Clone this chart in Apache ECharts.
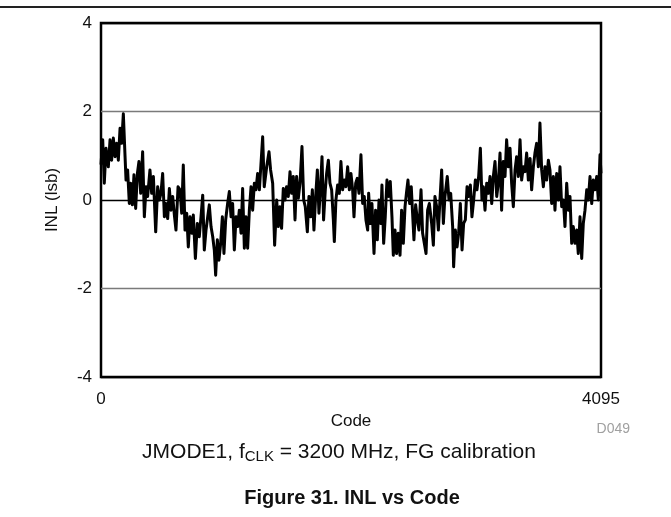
<!DOCTYPE html>
<html lang="en">

<head>
    <meta charset="UTF-8">
    <title>INL vs Code</title>
    <script src="https://cdn.jsdelivr.net/npm/echarts@6/dist/echarts.min.js"></script>
    <style>
        body { margin: 0; background: #fff; }
        #chart { width: 671px; height: 517px; }
    </style>
</head>

<body>
    <div id="chart"></div>
    <script>
        // code values (x)
        var codes = [
            0, 14, 27, 41, 60, 74, 87, 101, 115, 128, 142, 156, 169, 183, 197, 205, 218, 232, 243, 257,
            270, 284, 298, 311, 325, 341, 355, 369, 382, 401, 415, 429, 448, 464, 478, 491, 505, 519, 532, 546,
            560, 573, 587, 601, 614, 631, 647, 661, 674, 688, 702, 715, 729, 743, 756, 773, 789, 805, 819, 833,
            846, 860, 874, 887, 901, 915, 928, 939, 953, 966, 980, 994, 1007, 1021, 1037, 1051, 1065, 1078, 1092, 1106,
            1119, 1133, 1147, 1160, 1174, 1188, 1201, 1215, 1229, 1242, 1256, 1269, 1283, 1297,
            1324, 1337, 1357, 1376, 1389, 1406, 1422, 1439, 1452, 1466, 1479, 1493, 1507, 1520, 1534, 1548, 1561, 1575, 1589, 1602,
            1616, 1630, 1646, 1660, 1673, 1690, 1703, 1717, 1731, 1744, 1758, 1772, 1785, 1799, 1810, 1823, 1837, 1848, 1862, 1875,
            1889, 1903, 1911, 1924, 1938, 1952, 1965, 1979, 1993, 2006, 2020, 2034, 2047, 2061, 2072, 2086, 2099, 2113, 2129, 2143,
            2156, 2170, 2184, 2192, 2206, 2219, 2236, 2249, 2263, 2277, 2290, 2301, 2315, 2328, 2342, 2356, 2369, 2383, 2394, 2408,
            2421, 2435, 2449, 2462, 2476, 2490, 2503, 2514, 2528, 2541, 2552, 2563, 2577, 2591, 2604, 2621, 2634, 2648, 2662, 2675, 2689,
            2708, 2722, 2735, 2749, 2763, 2776, 2790, 2804, 2817, 2836, 2850, 2864, 2880, 2888, 2902, 2916, 2929, 2943, 2957, 2970,
            2984, 2998, 3011, 3025, 3038, 3052, 3066, 3079, 3093, 3107, 3120, 3131, 3145, 3159, 3172, 3186, 3200, 3213, 3227, 3241,
            3254, 3268, 3281, 3295, 3309, 3322, 3336, 3350, 3363, 3377, 3391, 3404, 3418, 3432, 3445, 3459, 3473, 3486, 3500, 3514,
            3527, 3541, 3554, 3568, 3582, 3595, 3609, 3623, 3636, 3650, 3664, 3677, 3691, 3705, 3718, 3732, 3746, 3759, 3773, 3787,
            3800, 3814, 3827, 3841, 3855, 3868, 3882, 3896, 3909, 3923, 3937, 3950, 3964, 3978, 3991, 4005, 4019, 4032, 4046, 4060,
            4073, 4087, 4095
        ]
        // INL (lsb) at each code
        var inl = [
            0.8, 1.36, 0.38, 1.17, 0.75, 1.36, 0.9, 1.4, 0.98, 1.28, 0.9, 1.62, 1.28, 1.95, 0.98, 0.45, 0.68, -0.08, 0.38, -0.11,
            0.57, -0.19, 0.6, 0.87, 0.15, 1.09, -0.38, 0.3, 0.08, 0.68, 0.15, 0.53, -0.72, 0.3, 0, 0.15, 0.6, -0.38, -0.08, -0.42,
            0.26, -0.23, 0.08, -0.34, -0.68, 0.3, 0.23, -0.3, 0.79, -0.68, -0.3, -1.06, -0.38, -0.75, -0.34, -1.32, -0.53, -0.83, -0.38, 0.11,
            -1.13, -0.68, -0.38, -0.11, -0.6, -0.83, -1.13, -1.7, -0.9, -1.36, -0.98, -0.38, -1.21, -0.45, -0.08, 0.19, -0.38, -0.08, -1.13, -0.38,
            -0.6, -0.23, -0.75, 0.26, -1.09, -0.38, -1.09, -0.23, 0.3, -0.23, 0.38, 0.23, 0.6, 0.23,
            1.43, 0.3, 0.75, 1.09, 0.68, 0.38, -1.02, 0, -0.6, -0.15, -0.64, 0.26, 0, 0.3, 0.08, 0.64, 0.15, 0.53, -0.45, 0.53,
            0.04, 0.38, 1.21, 0, -0.15, -0.72, 0.08, -0.38, 0.23, -0.68, 0.08, 0.68, -0.3, 0.34, 0.98, -0.45, 0.23, 0.6, 0.9, 0.38,
            0.23, -0.45, -0.94, 0, 0.34, 0.15, 0.87, 0.23, 0.45, 0.3, 0.75, 0.23, 0.6, 0.23, -0.38, 0.38, 0.49, 0.15, 1.02, -0.08,
            0.08, -0.45, -0.68, 0.15, -0.53, -0.08, -1.21, -0.23, -0.9, 0, -0.53, 0.34, -0.98, -0.38, 0.45, 0.08, 0.42, -0.38, -1.25, -0.68,
            -1.21, -0.75, -1.25, -0.23, -0.98, -0.15, 0.19, 0.45, -0.08, 0.3, -0.3, -0.9, -0.11, -0.45, -0.68, 0.23, -0.75, -0.98, -1.21, -0.23, -0.08,
            -0.53, -1.02, 0.08, -0.15, -0.68, 0, 0.68, -0.53, 0.08, 0.53, 0, 0.15, -0.6, -1.51, -0.68, -1.06, -0.75, -0.08, -1.13, -0.53,
            -0.45, 0.3, 0.08, 0.34, -0.38, 0, 0.45, 0.23, 0.53, 1.17, 0, 0.3, -0.23, 0.38, 0.15, 0.53, -0.08, 0.53, 0.87, 0.08,
            0.38, 1.06, -0.23, 0.87, 0.53, 1.36, 0.75, 1.17, 0.38, -0.15, 0.68, 0.98, 0.53, 1.36, 0.45, 0.75, 0.64, 1.06, 0.45, 0.94,
            0.23, 0.75, 1.06, 1.28, 0.75, 1.74, 0.68, 0.3, 0.75, 0.45, 0.9, 0.68, -0.08, 0.53, -0.23, 0.6, 0, 0.75, -0.15, 0,
            -0.6, 0.38, -0.23, 0.08, -0.98, -0.6, -0.98, -0.68, -1.21, -0.38, -1.32, -0.53, -0.23, 0.23, 0, 0.53, -0.08, 0.45, 0.23, 0.53,
            0, 1.02, 0.6
        ]
        var xTicks = [0, 4095]
        var yTicks = [-4, -2, 0, 2, 4]

        var font = 'Liberation Sans, Arial, sans-serif'
        var points = []
        for (var i = 0; i < codes.length; i++) {
            points.push([codes[i], inl[i]])
        }

        var mCharts = echarts.init(document.getElementById('chart'))
        var option = {
            animation: false,
            grid: {
                left: 101,
                right: 70,
                top: 23,
                bottom: 140,
                show: true,
                borderColor: '#000',
                borderWidth: 2.5
            },
            xAxis: {
                type: 'value',
                min: xTicks[0],
                max: xTicks[1],
                interval: xTicks[1] - xTicks[0],
                name: 'Code',
                nameLocation: 'middle',
                nameGap: 34,
                nameTextStyle: { fontFamily: font, fontSize: 17, color: '#111' },
                axisLine: { show: false },
                axisTick: { show: false },
                splitLine: { show: false },
                axisLabel: {
                    fontFamily: font, fontSize: 17, color: '#111', margin: 14,
                    formatter: function(v) { return String(v) } // no thousands comma
                }
            },
            yAxis: {
                type: 'value',
                min: yTicks[0],
                max: yTicks[yTicks.length - 1],
                interval: 2,
                name: 'INL (lsb)',
                nameLocation: 'middle',
                nameGap: 40,
                nameTextStyle: { fontFamily: font, fontSize: 17, color: '#111' },
                axisLine: { show: false },
                axisTick: { show: false },
                axisLabel: { fontFamily: font, fontSize: 17, color: '#111', margin: 9 },
                splitLine: {
                    show: true,
                    lineStyle: {
                        // -4, -2, 0, 2, 4
                        color: ['#000', '#7a7a7a', '#000', '#7a7a7a', '#000'],
                        width: 1.3
                    }
                }
            },
            series: [{
                type: 'line',
                data: points,
                showSymbol: false,
                lineStyle: { color: '#000', width: 3, join: 'round' },
                z: 3
            }],
            graphic: [
                {
                    type: 'rect',
                    shape: { x: 0, y: 6, width: 671, height: 2 },
                    style: { fill: '#222' }
                },
                {
                    type: 'text',
                    right: 41,
                    top: 422,
                    style: { text: 'D049', font: '14px ' + font, fill: '#a0a0a0' }
                },
                {
                    type: 'text',
                    x: 339,
                    y: 452,
                    style: {
                        text: 'JMODE1, f{sub|CLK} = 3200 MHz, FG calibration',
                        align: 'center',
                        verticalAlign: 'middle',
                        font: '21px ' + font,
                        fill: '#111',
                        rich: {
                            sub: { fontSize: 15, fontFamily: font, fill: '#111', padding: [9, 0, 0, 0] }
                        }
                    }
                },
                {
                    type: 'text',
                    x: 352,
                    y: 498,
                    style: {
                        text: 'Figure 31. INL vs Code',
                        align: 'center',
                        verticalAlign: 'middle',
                        font: 'bold 20px ' + font,
                        fill: '#111'
                    }
                }
            ]
        }
        mCharts.setOption(option)
    </script>
</body>

</html>
